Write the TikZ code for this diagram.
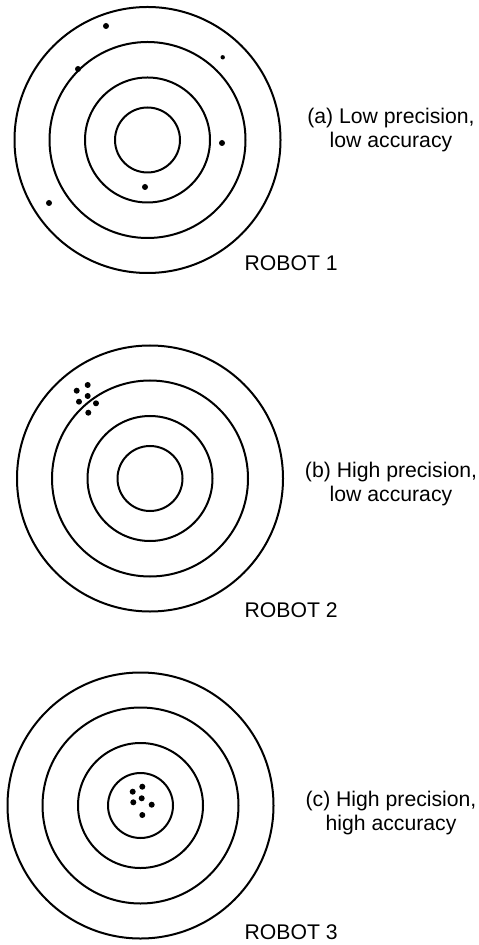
\documentclass[tikz,border=0pt]{standalone}
\usepackage{fontspec}
\setmainfont{Liberation Sans}
\usetikzlibrary{positioning}

\begin{document}
\begin{tikzpicture}[x=0.5pt, y=-0.5pt, line width=1pt,
    caption/.style={align=center, font=\fontsize{10.6}{12}\selectfont},
    robot/.style={anchor=west, font=\fontsize{10.6}{12}\selectfont},
    shot/.style={radius=3}]
    \useasboundingbox (0,0) rectangle (478,945);

    % Target centres
    \coordinate (t1) at (147.5,140);
    \coordinate (t2) at (150,478.5);
    \coordinate (t3) at (140.5,805.5);

    % Rings
    \foreach \c in {t1,t2,t3}
        \foreach \r in {32.5,62.5,98,133}
            \draw (\c) circle[radius=\r];

    % Robot 1: scattered shots
    \foreach \p in {(106,26),(78,69),(222,143),(145,187),(49,203)}
        \fill \p circle[shot];
    \fill (222.7,57.3) circle[radius=2.2];

    % Robot 2: grouped off centre
    \foreach \p in {(76.7,390.7),(87.7,385),(87.7,396),(79,401.7),(96,403.3),(88.3,412.7)}
        \fill \p circle[shot];

    % Robot 3: grouped in the centre
    \foreach \p in {(132.7,791.7),(142.3,786.7),(141.7,798.3),(133.3,802.3),(151.7,804.7),(142.3,815)}
        \fill \p circle[shot];

    % Captions
    \node[caption] (capa) at (391,130) {(a) Low precision,\\low accuracy};
    \node[caption] (capb) at (391,484) {(b) High precision,\\low accuracy};
    \node[caption] (capc) at (391,813) {(c) High precision,\\high accuracy};

    \node[robot] (rob1) at (237,263) {ROBOT 1};
    \node[robot] (rob2) at (237,610) {ROBOT 2};
    \node[robot] (rob3) at (237,932) {ROBOT 3};
\end{tikzpicture}
\end{document}
